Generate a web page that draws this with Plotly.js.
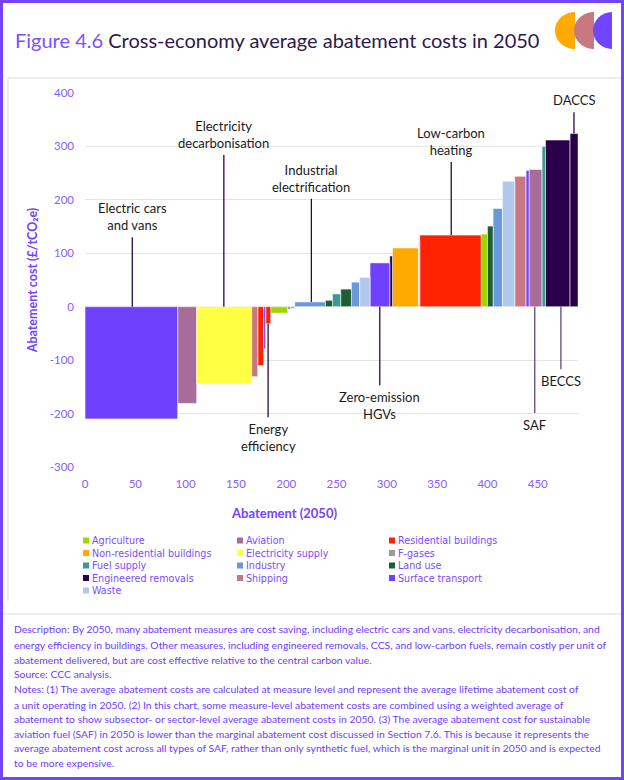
<!DOCTYPE html>
<html>
<head>
<meta charset="utf-8">
<script src="https://cdn.plot.ly/plotly-3.0.1.min.js"></script>
<style>
html,body{margin:0;padding:0;background:#fff;}
#chart{width:624px;height:780px;}
</style>
</head>
<body>
<div id="chart"></div>
<script>
// ---------- DATA ----------
const sectors = [
  'Agriculture', 'Aviation', 'Residential buildings',
  'Non-residential buildings', 'Electricity supply', 'F-gases',
  'Fuel supply', 'Industry', 'Land use',
  'Engineered removals', 'Shipping', 'Surface transport',
  'Waste'
];
// measure bars, left to right
const barSector = [
  'Surface transport', 'Aviation', 'Electricity supply', 'Shipping',
  'Residential buildings', 'Surface transport', 'Residential buildings', 'Agriculture',
  'Industry', 'F-gases', 'Industry', 'Land use',
  'Fuel supply', 'Land use', 'Industry', 'Waste',
  'Surface transport', 'Engineered removals', 'Non-residential buildings', 'Waste',
  'Residential buildings', 'Agriculture', 'Land use', 'Industry',
  'Waste', 'Shipping', 'Surface transport', 'Aviation',
  'Fuel supply', 'Engineered removals', 'Engineered removals'
];
// abatement in 2050 (MtCO2e) = bar width
const barAbatement = [
  92.1, 18.9, 54.7, 6.0,
  5.9, 2.0, 5.0, 16.9,
  2.7, 4.2, 30.6, 7.0,
  8.2, 10.6, 8.2, 10.3,
  19.6, 2.7, 25.8, 1.3,
  61.0, 6.3, 5.6, 9.3,
  12.2, 11.3, 3.0, 12.9,
  3.4, 24.4, 8.0
];
// average abatement cost (£/tCO2e) = bar height
const barCost = [
  -210, -181, -144, -131,
  -110, -79, -32, -12,
  -5, -3, 9, 12,
  24, 33, 46, 55,
  82, 95, 110, 123,
  134, 136, 151, 184,
  235, 244, 255, 257,
  300, 312, 324
];
// call-out labels
const calloutLabels = ['Electric cars<br>and vans', 'Electricity<br>decarbonisation', 'Industrial<br>electrification',
  'Low-carbon<br>heating', 'DACCS', 'Energy<br>efficiency', 'Zero-emission<br>HGVs', 'SAF', 'BECCS'];
const calloutX = [47, 138, 225, 364, 486, 182, 293, 447, 473];
const calloutFrom = [0, 0, 9, 134, 324, -32, 0, 0, 0];
const calloutTo = [130, 284, 202, 271, 364, -207, -147, -199, -117];

const xTicks = [0, 50, 100, 150, 200, 250, 300, 350, 400, 450];
const yTicks = [-300, -200, -100, 0, 100, 200, 300, 400];

const titleNum = 'Figure 4.6';
const titleText = 'Cross-economy average abatement costs in 2050';
const yTitle = 'Abatement cost (£/tCO₂e)';
const xTitle = 'Abatement (2050)';
const noteLines = [
  'Description: By 2050, many abatement measures are cost saving, including electric cars and vans, electricity decarbonisation, and',
  'energy efficiency in buildings. Other measures, including engineered removals, CCS, and low-carbon fuels, remain costly per unit of',
  'abatement delivered, but are cost effective relative to the central carbon value.',
  'Source: CCC analysis.',
  'Notes: (1) The average abatement costs are calculated at measure level and represent the average lifetime abatement cost of',
  'a unit operating in 2050. (2) In this chart, some measure-level abatement costs are combined using a weighted average of',
  'abatement to show subsector- or sector-level average abatement costs in 2050. (3) The average abatement cost for sustainable',
  'aviation fuel (SAF) in 2050 is lower than the marginal abatement cost discussed in Section 7.6. This is because it represents the',
  'average abatement cost across all types of SAF, rather than only synthetic fuel, which is the marginal unit in 2050 and is expected',
  'to be more expensive.'
];

// ---------- STYLE ----------
const sectorColor = {
  'Agriculture': '#A3D400',
  'Aviation': '#A86C98',
  'Residential buildings': '#FF2200',
  'Non-residential buildings': '#FFAA00',
  'Electricity supply': '#FFFF44',
  'F-gases': '#9A9A9A',
  'Fuel supply': '#3A9A92',
  'Industry': '#6B98DA',
  'Land use': '#1E5E34',
  'Engineered removals': '#2A0048',
  'Shipping': '#C87880',
  'Surface transport': '#7040FF',
  'Waste': '#B0C8EC'
};
const FONT = 'Lato, "DejaVu Sans", sans-serif';
const LEGFONT = '"DejaVu Sans", Lato, sans-serif';
const PURPLE = '#7344FF';
const W = 624, H = 780, L = 85, R = 46, T = 93, B = 313;
const PW = W - L - R, PH = H - T - B;
const px = p => (p - L) / PW;
const py = p => (H - B - p) / PH;

// ---------- TRACES ----------
const starts = [];
let acc = 0;
barAbatement.forEach(w => { starts.push(acc); acc += w; });

const traces = sectors.map(s => {
  const idx = barSector.map((b, i) => b === s ? i : -1).filter(i => i >= 0);
  return {
    type: 'bar',
    name: s,
    x: idx.map(i => starts[i] + barAbatement[i] / 2),
    width: idx.map(i => barAbatement[i]),
    y: idx.map(i => barCost[i]),
    marker: { color: sectorColor[s], line: { color: 'rgba(255,255,255,0.55)', width: 1 } },
    showlegend: false,
    hoverinfo: 'skip'
  };
});

// ---------- SHAPES ----------
const shapes = [];
// outer border
shapes.push({ type: 'rect', xref: 'paper', yref: 'paper', x0: px(1.5), x1: px(W - 1.5), y0: py(1.5), y1: py(H - 1.5),
  line: { color: PURPLE, width: 3 }, layer: 'above' });
// inner grey frame
shapes.push({ type: 'line', xref: 'paper', yref: 'paper', x0: px(8), x1: px(621), y0: py(78), y1: py(78), line: { color: '#DDDDDD', width: 1 } });
shapes.push({ type: 'line', xref: 'paper', yref: 'paper', x0: px(8), x1: px(8), y0: py(78), y1: py(601), line: { color: '#DDDDDD', width: 1 } });
shapes.push({ type: 'line', xref: 'paper', yref: 'paper', x0: px(3), x1: px(621), y0: py(614), y1: py(614), line: { color: '#DDDDDD', width: 1 } });

// logo: three half discs
function halfDisc(xFlat, xLeft, yTop, yBot, color) {
  const k = 0.5523, cy = (yTop + yBot) / 2, ry = (yBot - yTop) / 2, rx = xFlat - xLeft;
  const P = (a, b) => px(a).toFixed(5) + ',' + py(b).toFixed(5);
  const path = 'M' + P(xFlat, yTop) +
    ' C' + P(xFlat - k * rx, yTop) + ' ' + P(xLeft, cy - k * ry) + ' ' + P(xLeft, cy) +
    ' C' + P(xLeft, cy + k * ry) + ' ' + P(xFlat - k * rx, yBot) + ' ' + P(xFlat, yBot) + ' Z';
  return { type: 'path', xref: 'paper', yref: 'paper', path: path, fillcolor: color, line: { width: 0 } };
}
shapes.push(halfDisc(575, 555, 12, 49, '#FFAA00'));
shapes.push(halfDisc(594, 574, 12, 49, '#C87880'));
shapes.push(halfDisc(612, 593, 12, 49, '#7344FF'));

// call-out leader lines
calloutLabels.forEach((lab, i) => {
  const light = (lab === 'SAF' || lab === 'BECCS');
  shapes.push({ type: 'line', xref: 'x', yref: 'y', x0: calloutX[i], x1: calloutX[i], y0: calloutFrom[i], y1: calloutTo[i],
    line: { color: light ? '#5E4A78' : '#2A0A45', width: 1.3 }, layer: 'above' });
});

// ---------- ANNOTATIONS ----------
const annotations = [];

calloutLabels.forEach((lab, i) => {
  const up = calloutTo[i] > calloutFrom[i];
  annotations.push({ xref: 'x', yref: 'y', x: calloutX[i], y: calloutTo[i], xanchor: 'center',
    yanchor: up ? 'bottom' : 'top', yshift: up ? 2 : -2, showarrow: false, text: lab,
    font: { family: FONT, size: 13, color: '#1A1A1A' } });
});

annotations.push({ xref: 'paper', yref: 'paper', x: px(284), y: py(513), xanchor: 'center', yanchor: 'middle', showarrow: false,
  text: '<b>' + xTitle + '</b>', font: { family: FONT, size: 13, color: PURPLE } });

// custom legend (3 columns, row-major)
const legCol = [83, 237, 389];
const legRow = [540, 552.5, 565, 577.5, 590];
sectors.forEach((s, i) => {
  const c = i % 3, r = Math.floor(i / 3);
  const x0 = legCol[c], yc = legRow[r];
  shapes.push({ type: 'rect', xref: 'paper', yref: 'paper', x0: px(x0), x1: px(x0 + 6), y0: py(yc - 2.5), y1: py(yc + 3.5),
    fillcolor: sectorColor[s], line: { width: 0 } });
  annotations.push({ xref: 'paper', yref: 'paper', x: px(x0 + 8), y: py(yc + 0.5), xanchor: 'left', yanchor: 'middle',
    showarrow: false, borderpad: 0, text: s, font: { family: LEGFONT, size: 9.6, color: '#7A4CFF' } });
});

// notes
const noteY = [629, 645, 660, 674, 689, 705, 719, 733.5, 748, 763];
noteLines.forEach((t, i) => {
  annotations.push({ xref: 'paper', yref: 'paper', x: px(12), y: py(noteY[i]), xanchor: 'left', yanchor: 'middle',
    showarrow: false, text: t, font: { family: FONT, size: 10.4, color: '#6E3CFF' } });
});

// ---------- LAYOUT ----------
const layout = {
  width: W, height: H,
  margin: { l: L, r: R, t: T, b: B, pad: 0 },
  paper_bgcolor: '#FFFFFF', plot_bgcolor: '#FFFFFF',
  font: { family: FONT, color: '#8860FF' },
  title: {
    text: '<span style="color:#7B50FF">' + titleNum + '</span> ' + titleText,
    xref: 'container', yref: 'container', x: 15 / W, xanchor: 'left', y: 1 - 41 / H, yanchor: 'middle',
    font: { family: FONT, size: 20, color: '#2E1A4A' }
  },
  barmode: 'overlay',
  bargap: 0,
  showlegend: false,
  xaxis: {
    range: [0, 490], tickvals: xTicks, ticktext: xTicks.map(String), showgrid: false, zeroline: false,
    showline: false, ticks: '', ticklabelstandoff: 8,
    tickfont: { family: FONT, size: 11.5, color: '#8860FF' }, fixedrange: true
  },
  yaxis: {
    range: [-300, 400], tickvals: yTicks, ticktext: yTicks.map(String), showgrid: true, gridcolor: '#E4E4E4', gridwidth: 1,
    zeroline: false, showline: false, ticks: '', ticklabelstandoff: 10,
    tickfont: { family: FONT, size: 11.5, color: '#8860FF' },
    title: { text: '<b>' + yTitle + '</b>', standoff: 9, font: { family: FONT, size: 12.5, color: PURPLE } },
    fixedrange: true
  },
  shapes: shapes,
  annotations: annotations
};

Plotly.newPlot('chart', traces, layout, { displayModeBar: false, staticPlot: true });
</script>
</body>
</html>
